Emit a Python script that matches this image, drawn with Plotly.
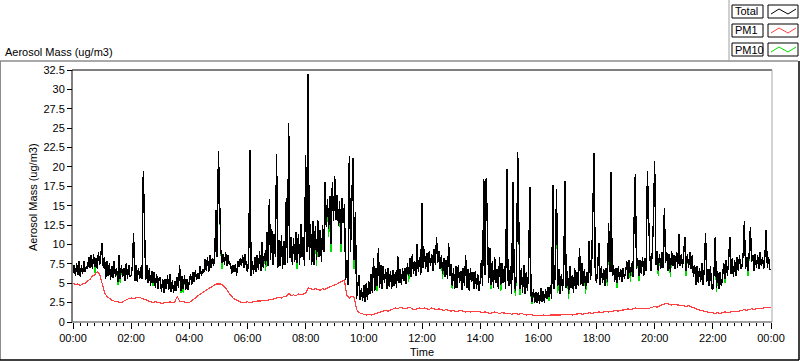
import pandas as pd
import plotly.graph_objects as go

# ---------------- data ----------------
start_time = "2024-01-01 00:00"
end_time = "2024-01-02 00:00"
# Total / PM10 read at 2.5-minute spacing, PM1 at 5-minute spacing
times_fine = pd.date_range(start_time, periods=577, freq="150s")
times_pm1 = pd.date_range(start_time, periods=289, freq="5min")

total = [
    6.3, 7.4, 5.9, 7.6, 6.1, 7.8, 5.8, 7.3, 6.2, 7.9, 6.4, 7.2, 6.8, 8.4, 7.0, 8.6, 6.9, 8.7, 7.1, 8.3, 6.9, 9.0, 7.3, 8.8,            # 00
    10.2, 7.0, 8.4, 5.6, 7.8, 5.9, 7.6, 5.4, 7.2, 5.7, 7.9, 5.8, 6.9, 5.2, 8.6, 5.5, 7.3, 5.8, 7.0, 5.3, 7.6, 5.6, 7.4, 5.9,           # 01
    6.0, 7.2, 11.5, 5.3, 7.4, 5.2, 7.0, 5.5, 7.1, 5.6, 19.5, 12.5, 5.4, 7.3, 5.0, 6.9, 4.6, 6.6, 5.1, 6.4, 4.4, 6.2, 4.3, 5.6,         # 02
    5.8, 3.9, 5.6, 3.8, 5.5, 4.2, 6.0, 4.1, 6.2, 3.9, 5.4, 3.7, 5.3, 4.0, 5.8, 4.4, 7.3, 4.0, 5.9, 4.2, 6.0, 4.1, 5.6, 4.2,            # 03
    5.0, 6.2, 4.8, 6.4, 5.2, 6.7, 5.4, 6.3, 5.6, 7.2, 5.9, 6.8, 6.4, 8.1, 6.6, 8.4, 6.4, 8.6, 7.0, 8.2, 7.2, 8.9, 14.5, 8.4,           # 04
    22.1, 13.0, 9.2, 7.6, 8.8, 7.4, 9.0, 7.2, 8.6, 7.4, 7.6, 6.2, 7.3, 6.4, 7.5, 6.0, 7.8, 7.1, 8.2, 7.2, 8.6, 7.0, 8.7, 7.3,          # 05
    6.4, 8.2, 22.2, 5.9, 7.8, 6.2, 8.4, 6.5, 8.6, 6.7, 9.1, 6.6, 10.3, 7.0, 8.9, 7.4, 11.6, 7.2, 15.9, 8.0, 12.0, 7.3, 11.4, 8.4,      # 06
    21.7, 7.0, 10.6, 7.2, 11.2, 6.8, 10.4, 7.4, 16.0, 7.6, 25.6, 8.2, 11.0, 7.4, 10.8, 7.8, 11.6, 7.6, 11.4, 7.4, 12.6, 8.4, 11.0, 7.2, # 07
    21.5, 9.0, 32.0, 8.0, 12.6, 7.4, 13.0, 7.3, 12.4, 8.0, 13.2, 8.4, 11.8, 7.8, 12.5, 9.0, 18.0, 12.2, 15.8, 12.0, 16.2, 10.0, 18.0, 13.0, # 08
    18.8, 13.2, 16.4, 12.4, 15.6, 10.0, 16.0, 12.8, 15.2, 5.4, 8.0, 4.8, 21.4, 9.0, 16.8, 21.2, 8.0, 14.2, 3.0, 4.6, 6.1, 2.8, 4.4, 2.7, # 09
    4.8, 2.6, 5.0, 2.8, 5.3, 3.6, 6.2, 3.8, 8.2, 4.0, 7.0, 4.6, 9.6, 4.4, 7.4, 4.2, 7.2, 5.0, 6.8, 4.3, 6.9, 4.5, 6.6, 4.3,            # 10
    6.7, 4.6, 6.4, 4.4, 8.5, 5.0, 6.8, 4.8, 6.9, 5.3, 7.0, 4.9, 7.6, 5.9, 8.2, 5.8, 8.8, 6.2, 7.9, 6.0, 10.0, 6.4, 8.4, 6.1,           # 11
    15.4, 7.0, 9.4, 6.8, 8.9, 6.4, 9.2, 7.2, 8.8, 6.6, 9.4, 7.4, 10.9, 7.6, 9.2, 6.8, 8.6, 6.2, 8.2, 5.8, 8.0, 5.6, 10.2, 6.0,         # 12
    7.5, 4.6, 6.9, 4.2, 7.2, 4.4, 7.4, 5.0, 6.6, 4.1, 7.0, 4.6, 8.6, 4.4, 6.8, 4.0, 7.0, 5.2, 6.4, 4.2, 6.6, 4.3, 6.2, 4.0,            # 13
    5.2, 8.0, 4.6, 18.4, 6.0, 18.6, 12.0, 5.0, 9.6, 4.8, 7.8, 4.4, 8.4, 5.0, 6.8, 4.2, 8.4, 4.8, 7.6, 5.0, 7.2, 4.2, 19.7, 5.4,        # 14
    4.6, 7.2, 3.6, 18.0, 6.6, 4.0, 6.4, 21.9, 11.9, 4.2, 7.0, 3.8, 7.4, 3.6, 6.4, 4.0, 6.8, 17.4, 3.4, 2.6, 4.2, 2.5, 3.8, 2.4,        # 15
    3.8, 2.3, 4.4, 2.6, 4.0, 2.5, 4.2, 3.0, 4.5, 3.2, 4.8, 3.0, 17.7, 4.2, 6.2, 17.1, 4.6, 6.8, 3.6, 6.2, 4.0, 7.0, 18.2, 4.4,         # 16
    6.6, 3.6, 7.2, 4.4, 6.0, 3.8, 7.0, 4.2, 6.4, 4.6, 9.6, 4.8, 7.6, 4.6, 6.8, 4.2, 6.4, 5.0, 10.5, 5.4, 7.2, 13.2, 21.8, 6.0,         # 17
    5.0, 7.0, 10.2, 4.8, 7.2, 5.0, 6.8, 4.6, 7.0, 5.2, 12.8, 6.4, 19.3, 6.0, 7.4, 5.2, 7.0, 5.0, 7.2, 5.4, 6.8, 5.2, 7.0, 5.6,         # 18
    6.4, 7.8, 5.6, 8.0, 6.0, 7.6, 5.8, 12.8, 19.1, 6.8, 8.2, 6.0, 8.0, 6.2, 8.4, 6.0, 8.2, 6.6, 19.5, 13.8, 8.4, 6.6, 9.0, 13.2,       # 19
    20.8, 7.4, 9.2, 6.6, 8.8, 6.8, 9.0, 7.0, 14.7, 7.6, 9.0, 6.6, 8.8, 6.4, 9.2, 7.2, 8.6, 6.8, 9.0, 7.0, 11.3, 7.2, 8.8, 7.0,         # 20
    9.0, 11.0, 6.6, 8.8, 7.0, 9.0, 6.8, 8.6, 5.8, 7.4, 4.8, 7.2, 5.0, 7.0, 5.2, 7.6, 4.8, 7.0, 11.5, 5.2, 6.8, 4.6, 7.2, 4.4,          # 21
    4.2, 6.4, 10.9, 4.4, 6.6, 4.2, 6.4, 4.6, 5.8, 7.6, 5.6, 8.0, 6.0, 7.8, 11.0, 6.2, 8.2, 5.8, 8.0, 6.0, 8.4, 6.6, 8.6, 6.8,          # 22
    7.2, 8.6, 13.0, 6.8, 8.4, 6.6, 8.8, 12.3, 7.8, 8.6, 6.6, 8.8, 7.0, 8.6, 6.8, 9.0, 7.2, 8.4, 6.8, 8.6, 11.8, 7.0, 8.4, 6.8,         # 23
    6.8,
]

pm10 = [
    6.3, 7.4, 5.9, 7.6, 6.1, 7.8, 5.8, 7.3, 6.2, 7.9, 6.4, 7.2, 6.8, 8.4, 7.0, 8.6, 6.9, 8.7, 6.3, 8.3, 6.9, 9.0, 7.3, 8.8,            # 00
    10.2, 7.0, 8.4, 5.6, 7.8, 5.9, 7.6, 5.4, 7.2, 5.7, 7.9, 5.8, 6.9, 4.8, 8.6, 5.0, 7.3, 5.8, 7.0, 5.3, 7.6, 5.6, 7.4, 5.9,           # 01
    6.0, 7.2, 11.5, 5.3, 7.4, 5.2, 7.0, 5.5, 7.1, 5.6, 19.5, 12.5, 5.4, 7.3, 5.0, 6.9, 4.6, 6.6, 4.6, 6.4, 4.4, 6.2, 4.3, 5.6,         # 02
    5.8, 3.9, 5.6, 3.8, 5.5, 4.2, 6.0, 4.1, 6.2, 3.9, 5.4, 3.7, 5.3, 4.0, 5.8, 4.4, 7.3, 3.7, 5.9, 3.8, 6.0, 4.1, 5.6, 4.2,            # 03
    5.0, 6.2, 4.8, 6.4, 5.2, 6.7, 5.4, 6.3, 5.6, 7.2, 5.9, 6.8, 6.4, 8.1, 6.6, 8.4, 6.4, 8.6, 7.0, 8.2, 7.2, 8.9, 14.5, 8.4,           # 04
    22.1, 13.0, 9.2, 6.8, 8.8, 7.4, 9.0, 7.2, 8.6, 7.4, 7.6, 6.2, 7.3, 6.4, 7.5, 6.0, 7.8, 7.1, 8.2, 7.2, 8.6, 7.0, 8.7, 7.3,          # 05
    6.4, 8.2, 22.2, 5.9, 7.8, 6.2, 8.4, 6.5, 8.6, 6.7, 9.1, 6.6, 10.3, 7.0, 8.9, 6.6, 11.6, 7.2, 15.9, 8.0, 12.0, 7.3, 11.4, 8.4,      # 06
    21.7, 7.0, 10.6, 7.2, 11.2, 6.8, 10.4, 7.4, 16.0, 7.6, 25.6, 8.2, 11.0, 7.4, 10.8, 7.8, 11.6, 6.8, 11.4, 7.4, 12.6, 8.4, 11.0, 7.2, # 07
    21.5, 9.0, 32.0, 8.0, 12.6, 7.4, 13.0, 7.3, 12.4, 7.2, 13.2, 8.4, 11.8, 7.8, 12.5, 9.0, 18.0, 12.2, 15.8, 11.0, 16.2, 9.0, 18.0, 13.0, # 08
    18.8, 13.2, 16.4, 12.4, 15.6, 9.0, 16.0, 12.8, 15.2, 5.4, 8.0, 4.8, 21.4, 9.0, 16.8, 21.2, 6.8, 14.2, 3.0, 4.6, 6.1, 2.8, 4.4, 2.7, # 09
    4.8, 2.6, 5.0, 2.8, 5.3, 3.6, 6.2, 3.8, 8.2, 4.0, 7.0, 4.0, 9.6, 4.4, 7.4, 4.2, 7.2, 5.0, 6.8, 4.3, 6.9, 4.5, 6.6, 4.3,            # 10
    6.7, 4.6, 6.4, 4.4, 8.5, 5.0, 6.8, 4.8, 6.9, 5.3, 7.0, 4.9, 7.6, 5.2, 8.2, 5.8, 8.8, 6.2, 7.9, 6.0, 10.0, 6.4, 8.4, 6.1,           # 11
    15.4, 7.0, 9.4, 6.8, 8.9, 6.4, 9.2, 7.2, 8.8, 6.6, 9.4, 7.4, 10.9, 7.6, 9.2, 6.8, 8.6, 5.6, 8.2, 5.8, 8.0, 5.6, 10.2, 6.0,         # 12
    7.5, 4.2, 6.9, 4.2, 7.2, 4.4, 7.4, 5.0, 6.6, 4.1, 7.0, 4.6, 8.6, 4.4, 6.8, 4.0, 7.0, 5.2, 6.4, 4.2, 6.6, 4.3, 6.2, 4.0,            # 13
    5.2, 8.0, 4.6, 18.4, 6.0, 18.6, 12.0, 5.0, 9.6, 4.2, 7.8, 4.4, 8.4, 5.0, 6.8, 4.2, 8.4, 4.0, 7.6, 5.0, 7.2, 4.2, 19.7, 5.4,        # 14
    4.6, 7.2, 3.6, 18.0, 6.6, 3.4, 6.4, 21.9, 11.9, 3.5, 7.0, 3.8, 7.4, 3.6, 6.4, 4.0, 6.8, 17.4, 3.4, 2.3, 4.2, 2.5, 3.8, 2.4,        # 15
    3.8, 2.3, 4.4, 2.6, 4.0, 2.5, 4.2, 3.0, 4.5, 2.7, 4.8, 3.0, 17.7, 4.2, 6.2, 17.1, 3.8, 6.8, 3.6, 6.2, 4.0, 7.0, 18.2, 4.4,         # 16
    6.6, 3.0, 7.2, 4.4, 6.0, 3.8, 7.0, 4.2, 6.4, 4.6, 9.6, 4.8, 7.6, 4.6, 6.8, 3.6, 6.4, 5.0, 10.5, 5.4, 7.2, 13.2, 21.8, 6.0,         # 17
    5.0, 7.0, 10.2, 4.8, 7.2, 5.0, 6.8, 4.6, 7.0, 4.6, 12.8, 6.4, 19.3, 6.0, 7.4, 5.2, 7.0, 4.4, 7.2, 5.4, 6.8, 5.2, 7.0, 5.6,         # 18
    6.4, 7.8, 5.6, 8.0, 5.2, 7.6, 5.8, 12.8, 19.1, 6.8, 8.2, 5.3, 8.0, 6.2, 8.4, 6.0, 8.2, 6.6, 19.5, 13.8, 8.4, 6.6, 9.0, 13.2,       # 19
    20.8, 7.4, 9.2, 6.0, 8.8, 6.8, 9.0, 7.0, 14.7, 7.6, 9.0, 6.6, 8.8, 5.8, 9.2, 7.2, 8.6, 6.8, 9.0, 7.0, 11.3, 7.2, 8.8, 7.0,         # 20
    9.0, 11.0, 6.0, 8.8, 7.0, 9.0, 6.8, 8.6, 5.8, 7.4, 4.8, 7.2, 5.0, 7.0, 5.2, 7.6, 4.8, 7.0, 11.5, 5.2, 6.8, 4.6, 7.2, 4.4,          # 21
    4.2, 6.4, 10.9, 3.9, 6.6, 4.2, 6.4, 4.6, 5.8, 7.6, 5.0, 8.0, 6.0, 7.8, 11.0, 6.2, 8.2, 5.8, 8.0, 6.0, 8.4, 6.6, 8.6, 6.8,          # 22
    7.2, 8.6, 13.0, 6.8, 8.4, 6.0, 8.8, 12.3, 7.8, 8.6, 6.6, 8.8, 7.0, 8.6, 6.8, 9.0, 7.2, 8.4, 6.8, 8.6, 11.8, 7.0, 8.4, 6.8,         # 23
    6.8,
]

pm1 = [
    5.0, 4.8, 4.9, 4.7, 4.9, 5.0, 5.3, 5.5, 5.9, 6.1, 6.5, 6.2,   # 00
    5.0, 3.8, 3.3, 3.0, 2.8, 2.7, 2.6, 2.6, 2.5, 2.7, 2.9, 3.0,   # 01
    3.1, 3.0, 3.1, 3.2, 3.1, 3.0, 2.8, 2.7, 2.6, 2.5, 2.6, 2.5,   # 02
    2.5, 2.4, 2.5, 2.5, 2.6, 2.5, 2.6, 3.3, 2.7, 2.6, 2.5, 2.5,   # 03
    2.5, 2.7, 2.9, 3.2, 3.5, 3.7, 3.9, 4.1, 4.3, 4.5, 4.7, 4.9,   # 04
    4.9, 4.9, 4.7, 4.4, 3.9, 3.5, 3.1, 2.9, 2.7, 2.6, 2.5, 2.6,   # 05
    2.6, 2.5, 2.6, 2.6, 2.7, 2.7, 2.8, 2.8, 2.8, 2.9, 2.9, 3.0,   # 06
    3.1, 3.2, 3.1, 3.3, 3.3, 3.7, 3.4, 3.5, 3.4, 3.6, 3.5, 3.6,   # 07
    3.7, 4.4, 4.3, 4.2, 4.3, 4.2, 4.1, 4.3, 4.2, 4.4, 4.5, 4.6,   # 08
    4.7, 4.9, 5.1, 5.3, 5.4, 3.4, 3.1, 3.3, 3.2, 1.6, 1.2, 1.1,   # 09
    1.0, 0.9, 1.0, 0.9, 1.0, 1.1, 1.2, 1.3, 1.4, 1.5, 1.4, 1.5,   # 10
    1.7, 1.8, 1.7, 1.9, 1.8, 1.7, 1.8, 1.9, 1.7, 1.6, 1.7, 1.8,   # 11
    1.7, 1.8, 1.7, 1.6, 1.8, 1.7, 1.6, 1.7, 1.6, 1.5, 1.6, 1.5,   # 12
    1.4, 1.5, 1.3, 1.4, 1.5, 1.4, 1.3, 1.4, 1.3, 1.4, 1.3, 1.4,   # 13
    1.3, 1.2, 1.3, 1.2, 1.1, 1.2, 1.3, 1.2, 1.1, 1.2, 1.1, 1.1,   # 14
    1.1, 1.0, 1.1, 1.0, 1.0, 1.1, 1.0, 0.9, 1.0, 0.9, 0.9, 0.8,   # 15
    0.8, 0.8, 0.9, 0.8, 0.8, 0.9, 0.9, 0.9, 0.9, 0.9, 1.0, 0.9,   # 16
    1.0, 1.0, 0.9, 1.0, 1.0, 1.1, 1.0, 1.1, 1.1, 1.2, 1.1, 1.2,   # 17
    1.2, 1.3, 1.2, 1.3, 1.4, 1.3, 1.4, 1.4, 1.5, 1.4, 1.5, 1.6,   # 18
    1.6, 1.7, 1.6, 1.7, 1.8, 1.7, 1.8, 1.7, 1.8, 1.7, 1.8, 1.9,   # 19
    2.0, 1.9, 2.1, 2.2, 2.3, 2.4, 2.3, 2.2, 2.3, 2.2, 2.2, 2.1,   # 20
    2.1, 2.0, 2.1, 2.0, 1.8, 1.7, 1.6, 1.5, 1.4, 1.3, 1.3, 1.2,   # 21
    1.2, 1.1, 1.2, 1.1, 1.2, 1.3, 1.2, 1.3, 1.3, 1.4, 1.3, 1.4,   # 22
    1.5, 1.6, 1.5, 1.6, 1.7, 1.6, 1.7, 1.8, 1.7, 1.8, 1.9, 1.9,   # 23
    1.9,
]

series_names = ["Total", "PM1", "PM10"]
y_ticks = [0, 2.5, 5, 7.5, 10, 12.5, 15, 17.5, 20, 22.5, 25, 27.5, 30, 32.5]

assert len(total) == len(pm10) == len(times_fine), (len(total), len(pm10))
assert len(pm1) == len(times_pm1), len(pm1)

# ---------------- styling ----------------
FONT = "Liberation Sans, Arial, sans-serif"
C_TOTAL = "#000000"
C_PM1 = "#ff4040"
C_PM10 = "#00e000"

L, T, W, H = 73, 70, 698, 252   # plot area in pixels


def px(x):
    return (x - L) / W


def py(y):
    return (T + H - y) / H


fig = go.Figure()
fig.add_trace(go.Scatter(x=times_fine, y=pm10, mode="lines", name="PM10",
                         line=dict(color=C_PM10, width=1.4)))
fig.add_trace(go.Scatter(x=times_fine, y=total, mode="lines", name="Total",
                         line=dict(color=C_TOTAL, width=1.4)))
fig.add_trace(go.Scatter(x=times_pm1, y=pm1, mode="lines", name="PM1",
                         line=dict(color=C_PM1, width=1.2)))

shapes = []


def seg(x0, y0, x1, y1, color, width=1):
    shapes.append(dict(type="line", xref="paper", yref="paper",
                       x0=px(x0), y0=py(y0), x1=px(x1), y1=py(y1),
                       line=dict(color=color, width=width), layer="above"))


# outer panel frame
seg(0, 61, 798, 61, "#8c8c8c", 1.5)
seg(0.5, 61, 0.5, 360, "#8c8c8c", 1)
seg(0, 360, 799, 360, "#000000", 1.5)
seg(799, 61, 799, 360, "#000000", 1.5)
seg(729, 0, 729, 61, "#a0a0a0", 1)

# plot area border
seg(72, 70, 772, 70, "#000000", 1)
seg(72, 70, 72, 322, "#000000", 1)
seg(772, 70, 772, 322, "#a8a8a8", 1)
seg(72, 322, 772, 322, "#808080", 1.5)

annotations = []
# legend
legend_colors = [C_TOTAL, C_PM1, C_PM10]
for i, (name, col) in enumerate(zip(series_names, legend_colors)):
    top = 5 + i * 19
    bot = top + 13
    shapes.append(dict(type="rect", xref="paper", yref="paper",
                       x0=px(732), x1=px(763), y0=py(bot), y1=py(top),
                       line=dict(color="#000000", width=1), fillcolor="white"))
    shapes.append(dict(type="rect", xref="paper", yref="paper",
                       x0=px(768), x1=px(798), y0=py(bot), y1=py(top),
                       line=dict(color="#000000", width=1), fillcolor="white"))
    pts = [(771, top + 9), (779, top + 4), (788, top + 9), (796, top + 4)]
    path = "M " + " L ".join(f"{px(a)},{py(b)}" for a, b in pts)
    shapes.append(dict(type="path", xref="paper", yref="paper", path=path,
                       line=dict(color=col, width=1)))
    annotations.append(dict(text=name, xref="paper", yref="paper",
                            x=px(733), y=py((top + bot) / 2), xanchor="left",
                            yanchor="middle", showarrow=False,
                            font=dict(family=FONT, size=11, color="black")))

# titles
annotations.append(dict(text="Aerosol Mass (ug/m3)", xref="paper", yref="paper",
                        x=px(3), y=py(52), xanchor="left", yanchor="middle",
                        showarrow=False, font=dict(family=FONT, size=11, color="black")))
annotations.append(dict(text="Aerosol Mass (ug/m3)", xref="paper", yref="paper",
                        x=px(33), y=py(197), xanchor="center", yanchor="middle",
                        textangle=-90, showarrow=False,
                        font=dict(family=FONT, size=11, color="black")))
annotations.append(dict(text="Time", xref="paper", yref="paper",
                        x=px(422), y=py(352), xanchor="center", yanchor="middle",
                        showarrow=False, font=dict(family=FONT, size=11, color="black")))

fig.update_layout(
    width=800, height=361,
    margin=dict(l=L, r=800 - L - W, t=T, b=361 - T - H, pad=0),
    paper_bgcolor="white", plot_bgcolor="white",
    showlegend=False,
    font=dict(family=FONT, size=11, color="black"),
    shapes=shapes, annotations=annotations,
    xaxis=dict(
        type="date", range=[start_time, end_time],
        tickformat="%H:%M", dtick=7200000, tick0=start_time,
        ticks="outside", ticklen=6, tickcolor="black", tickwidth=1,
        showgrid=False, zeroline=False, showline=False,
        tickfont=dict(family=FONT, size=11, color="black"),
        minor=dict(dtick=900000, ticks="outside", ticklen=3,
                   tickcolor="black", tickwidth=1, showgrid=False),
        fixedrange=True,
    ),
    yaxis=dict(
        range=[0, 32.5], tickvals=y_ticks,
        ticks="outside", ticklen=5, tickcolor="black", tickwidth=1,
        showgrid=False, zeroline=False, showline=False,
        tickfont=dict(family=FONT, size=11, color="black"),
        fixedrange=True,
    ),
)

post_js = (
    "document.body.style.margin='0';"
    "document.body.style.overflow='hidden';"
    "document.querySelectorAll('.scatterlayer path.js-line').forEach("
    "function(p){p.style.shapeRendering='crispEdges';});"
)

fig.write_html("out.html", post_script=post_js, config={"displayModeBar": False})
